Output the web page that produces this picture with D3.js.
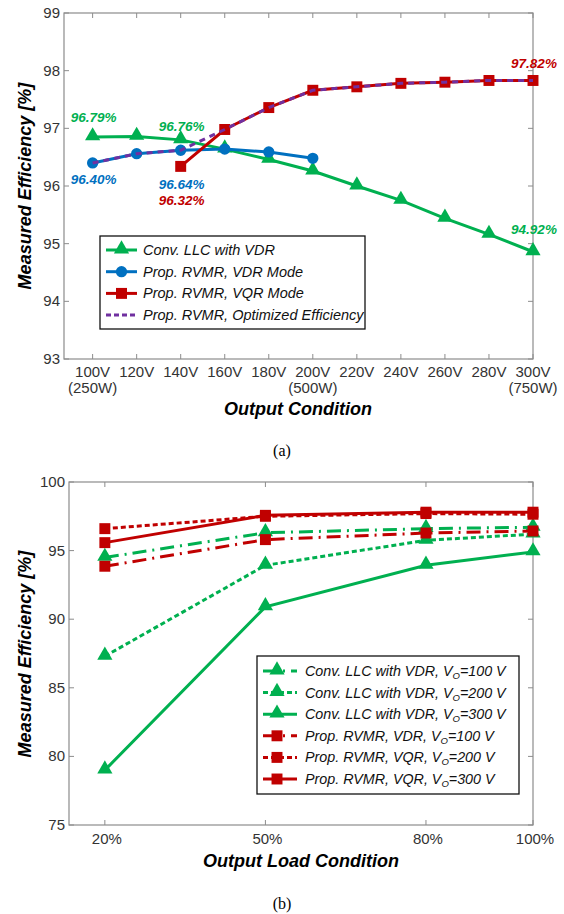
<!DOCTYPE html>
<html>
<head>
<meta charset="utf-8">
<script src="https://cdn.jsdelivr.net/npm/d3@7"></script>
<style>
  body { margin: 0; background: #fff; }
  svg { display: block; font-family: 'Liberation Sans', Arial, sans-serif; }
</style>
</head>
<body>
<svg></svg>
<script>
// ---- chart (a) data ----
let voltsA = [100, 120, 140, 160, 180, 200, 220, 240, 260, 280, 300]
let tickLabelsA = ['100V', '120V', '140V', '160V', '180V', '200V', '220V', '240V', '260V', '280V', '300V']
let subLabelsA = { 100: '(250W)', 200: '(500W)', 300: '(750W)' }
let convLLC = [96.85, 96.86, 96.80, 96.64, 96.46, 96.26, 96.00, 95.75, 95.44, 95.16, 94.86]
let vdrVolts = [100, 120, 140, 160, 180, 200]
let vdrMode = [96.40, 96.56, 96.62, 96.64, 96.59, 96.48]
let vqrVolts = [140, 160, 180, 200, 220, 240, 260, 280, 300]
let vqrMode = [96.34, 96.98, 97.36, 97.66, 97.72, 97.78, 97.80, 97.83, 97.83]
let optVolts = [100, 120, 140, 160, 180, 200, 220, 240, 260, 280, 300]
let optimized = [96.40, 96.56, 96.62, 96.98, 97.36, 97.66, 97.72, 97.78, 97.80, 97.83, 97.83]
let yTicksA = [93, 94, 95, 96, 97, 98, 99]

// ---- chart (b) data ----
let loads = [20, 50, 80, 100]
let loadLabels = ['20%', '50%', '80%', '100%']
let conv100 = [94.5, 96.3, 96.6, 96.7]
let conv200 = [87.3, 93.93, 95.75, 96.2]
let conv300 = [79.0, 90.9, 93.93, 94.9]
let rvmr100 = [93.86, 95.8, 96.28, 96.43]
let rvmr200 = [96.6, 97.5, 97.7, 97.65]
let rvmr300 = [95.58, 97.57, 97.8, 97.8]
let yTicksB = [75, 80, 85, 90, 95, 100]

let width = 564
let height = 914

let green = '#00b050'
let blue = '#0070c0'
let red = '#c00000'
let purple = '#7030a0'
let axisGray = '#8c8c8c'
let textGray = '#333'

let svg = d3.select('svg')
  .attr('width', width)
  .attr('height', height)

let marker = (g, type, x, y, color) => {
  let sym = type === 'tri' ? d3.symbolTriangle : type === 'sq' ? d3.symbolSquare : d3.symbolCircle
  let size = type === 'tri' ? 100 : type === 'sq' ? 120 : 100
  let dy = type === 'tri' ? -1 : 0
  g.append('path')
    .attr('d', d3.symbol().type(sym).size(size)())
    .attr('transform', 'translate(' + x + ',' + (y + dy) + ')')
    .attr('fill', color)
}

let drawFrame = (g, xScale, yScale, xTicks, yTicks, box) => {
  // box
  g.append('rect')
    .attr('x', box.left).attr('y', box.top)
    .attr('width', box.right - box.left).attr('height', box.bottom - box.top)
    .attr('fill', 'none').attr('stroke', axisGray).attr('stroke-width', 1.2)
  // inward ticks
  xTicks.forEach((t) => {
    let x = xScale(t)
    g.append('line').attr('x1', x).attr('x2', x).attr('y1', box.bottom).attr('y2', box.bottom - 5).attr('stroke', axisGray)
    g.append('line').attr('x1', x).attr('x2', x).attr('y1', box.top).attr('y2', box.top + 5).attr('stroke', axisGray)
  })
  yTicks.forEach((t) => {
    let y = yScale(t)
    g.append('line').attr('x1', box.left).attr('x2', box.left + 5).attr('y1', y).attr('y2', y).attr('stroke', axisGray)
    g.append('line').attr('x1', box.right).attr('x2', box.right - 5).attr('y1', y).attr('y2', y).attr('stroke', axisGray)
    g.append('text')
      .attr('x', box.left - 4).attr('y', y + 5)
      .attr('text-anchor', 'end')
      .attr('font-size', 15)
      .attr('fill', textGray)
      .text(t)
  })
}

let drawSeries = (g, xs, ys, xScale, yScale, color, dash, type) => {
  let pts = xs.map((x, i) => [xScale(x), yScale(ys[i])])
  g.append('path')
    .attr('d', d3.line()(pts))
    .attr('fill', 'none')
    .attr('stroke', color)
    .attr('stroke-width', 3)
    .attr('stroke-dasharray', dash)
  if (type) {
    pts.forEach((p) => marker(g, type, p[0], p[1], color))
  }
}

// ================= chart (a) =================
let boxA = { left: 64, right: 533, top: 13, bottom: 359 }
let xA = d3.scaleLinear().domain([87, 300]).range([boxA.left, boxA.right])
let yA = d3.scaleLinear().domain([93, 99]).range([boxA.bottom, boxA.top])
let gA = svg.append('g')

drawFrame(gA, xA, yA, voltsA, yTicksA, boxA)

voltsA.forEach((v, i) => {
  gA.append('text')
    .attr('x', xA(v)).attr('y', 377)
    .attr('text-anchor', 'middle').attr('font-size', 15).attr('fill', textGray)
    .text(tickLabelsA[i])
  if (subLabelsA[v]) {
    gA.append('text')
      .attr('x', xA(v)).attr('y', 393)
      .attr('text-anchor', 'middle').attr('font-size', 15).attr('fill', textGray)
      .text(subLabelsA[v])
  }
})

drawSeries(gA, voltsA, convLLC, xA, yA, green, null, 'tri')
drawSeries(gA, vdrVolts, vdrMode, xA, yA, blue, null, 'circ')
drawSeries(gA, vqrVolts, vqrMode, xA, yA, red, null, 'sq')
gA.append('path')
  .attr('d', d3.line()(optVolts.map((v, i) => [xA(v), yA(optimized[i])])))
  .attr('fill', 'none').attr('stroke', purple).attr('stroke-width', 3)
  .attr('stroke-dasharray', '6,5')

// value labels
let labelsA = [
  { x: 100, y: 122, t: '96.79%', c: green },
  { x: 140, y: 131, t: '96.76%', c: green },
  { x: 100, y: 184, t: '96.40%', c: blue },
  { x: 140, y: 189, t: '96.64%', c: blue },
  { x: 140, y: 205, t: '96.32%', c: red },
  { x: 300, y: 68, t: '97.82%', c: red },
  { x: 300, y: 234, t: '94.92%', c: green }
]
labelsA.forEach((l) => {
  gA.append('text')
    .attr('x', xA(l.x) + 1).attr('y', l.y)
    .attr('text-anchor', 'middle')
    .attr('font-size', 13.5).attr('font-weight', 'bold').attr('font-style', 'italic')
    .attr('fill', l.c)
    .text(l.t)
})

// legend (a)
let legA = gA.append('g')
legA.append('rect')
  .attr('x', 100).attr('y', 236).attr('width', 265).attr('height', 93)
  .attr('fill', '#fff').attr('stroke', '#111').attr('stroke-width', 1.3)
let legItemsA = [
  { t: 'Conv. LLC with VDR', c: green, m: 'tri', d: null },
  { t: 'Prop. RVMR, VDR Mode', c: blue, m: 'circ', d: null },
  { t: 'Prop. RVMR, VQR Mode', c: red, m: 'sq', d: null },
  { t: 'Prop. RVMR, Optimized Efficiency', c: purple, m: null, d: '5,3' }
]
legItemsA.forEach((it, i) => {
  let y = 250 + i * 21.7
  legA.append('line')
    .attr('x1', 106).attr('x2', 137).attr('y1', y).attr('y2', y)
    .attr('stroke', it.c).attr('stroke-width', 3).attr('stroke-dasharray', it.d)
  if (it.m) marker(legA, it.m, 121.5, y, it.c)
  legA.append('text')
    .attr('x', 143).attr('y', y + 5)
    .attr('font-size', 14.5).attr('font-style', 'italic').attr('fill', '#111')
    .text(it.t)
})

gA.append('text')
  .attr('x', 298).attr('y', 415)
  .attr('text-anchor', 'middle')
  .attr('font-size', 18).attr('font-weight', 'bold').attr('font-style', 'italic')
  .text('Output Condition')
gA.append('text')
  .attr('transform', 'translate(31,186) rotate(-90)')
  .attr('text-anchor', 'middle')
  .attr('font-size', 18).attr('font-weight', 'bold').attr('font-style', 'italic')
  .text('Measured Efficiency [%]')
gA.append('text')
  .attr('x', 282).attr('y', 456)
  .attr('text-anchor', 'middle')
  .attr('font-family', "'Liberation Serif', 'Times New Roman', serif")
  .attr('font-size', 16)
  .text('(a)')

// ================= chart (b) =================
let boxB = { left: 69, right: 533, top: 482, bottom: 825 }
let xB = d3.scaleLinear().domain([13.3, 100]).range([boxB.left, boxB.right])
let yB = d3.scaleLinear().domain([75, 100]).range([boxB.bottom, boxB.top])
let gB = svg.append('g')

drawFrame(gB, xB, yB, loads, yTicksB, boxB)

loads.forEach((v, i) => {
  gB.append('text')
    .attr('x', xB(v) + 2).attr('y', 844)
    .attr('text-anchor', 'middle').attr('font-size', 15).attr('fill', textGray)
    .text(loadLabels[i])
})

let dashDot = '14,6,2,6'
let dotted = '5,3'
let seriesB = [
  { v: conv100, c: green, m: 'tri', d: dashDot, t: 'Conv. LLC with VDR, V', n: '=100 V' },
  { v: conv200, c: green, m: 'tri', d: dotted, t: 'Conv. LLC with VDR, V', n: '=200 V' },
  { v: conv300, c: green, m: 'tri', d: null, t: 'Conv. LLC with VDR, V', n: '=300 V' },
  { v: rvmr100, c: red, m: 'sq', d: dashDot, t: 'Prop. RVMR, VDR, V', n: '=100 V' },
  { v: rvmr200, c: red, m: 'sq', d: dotted, t: 'Prop. RVMR, VQR, V', n: '=200 V' },
  { v: rvmr300, c: red, m: 'sq', d: null, t: 'Prop. RVMR, VQR, V', n: '=300 V' }
]
seriesB.forEach((s) => {
  drawSeries(gB, loads, s.v, xB, yB, s.c, s.d, s.m)
})

// legend (b)
let legB = gB.append('g')
legB.append('rect')
  .attr('x', 257).attr('y', 656).attr('width', 262).attr('height', 138)
  .attr('fill', '#fff').attr('stroke', '#111').attr('stroke-width', 1.3)
seriesB.forEach((s, i) => {
  let y = 671 + i * 21.6
  legB.append('line')
    .attr('x1', 263).attr('x2', 297).attr('y1', y).attr('y2', y)
    .attr('stroke', s.c).attr('stroke-width', 3).attr('stroke-dasharray', s.d)
  marker(legB, s.m, 277, y, s.c)
  let txt = legB.append('text')
    .attr('x', 305).attr('y', y + 5)
    .attr('font-size', 14.3).attr('font-style', 'italic').attr('fill', '#111')
  txt.append('tspan').text(s.t)
  txt.append('tspan').attr('font-size', 9.5).attr('dy', 3).text('O')
  txt.append('tspan').attr('dy', -3).text(s.n)
})

gB.append('text')
  .attr('x', 301).attr('y', 867)
  .attr('text-anchor', 'middle')
  .attr('font-size', 18).attr('font-weight', 'bold').attr('font-style', 'italic')
  .text('Output Load Condition')
gB.append('text')
  .attr('transform', 'translate(31,654) rotate(-90)')
  .attr('text-anchor', 'middle')
  .attr('font-size', 18).attr('font-weight', 'bold').attr('font-style', 'italic')
  .text('Measured Efficiency [%]')
gB.append('text')
  .attr('x', 282).attr('y', 909)
  .attr('text-anchor', 'middle')
  .attr('font-family', "'Liberation Serif', 'Times New Roman', serif")
  .attr('font-size', 16)
  .text('(b)')
</script>
</body>
</html>
